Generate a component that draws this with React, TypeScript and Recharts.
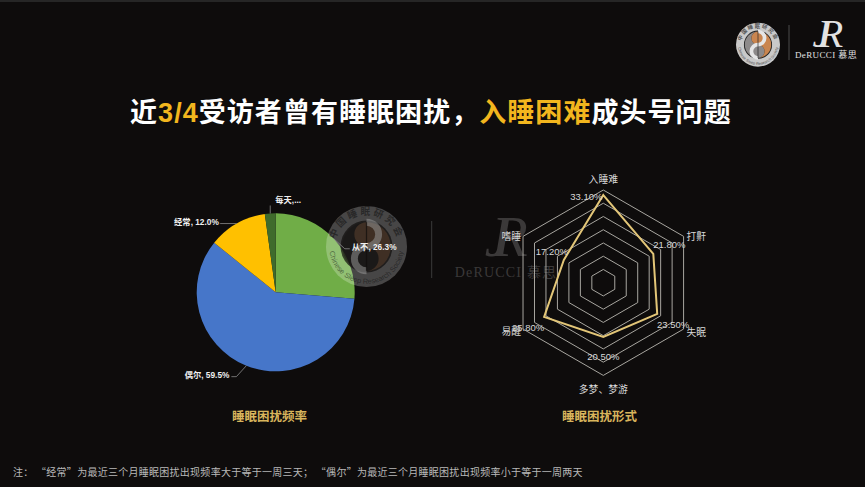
import { PieChart, Pie, Cell, RadarChart, Radar, PolarGrid, PolarAngleAxis, PolarRadiusAxis } from 'recharts'

const RADIAN = Math.PI / 180
const CJK = '"Liberation Sans", "Noto Sans CJK SC", sans-serif'

const frequencyNames = ['从不', '偶尔', '经常', '每天']
const frequencyValues = [26.3, 59.5, 12.0, 2.2]
const frequencyLabels = ['从不, 26.3%', '偶尔, 59.5%', '经常, 12.0%', '每天,...']
const frequencyColors = ['#70AD47', '#4676C9', '#FFC000', '#3F6B2C']

const symptomNames = ['入睡难', '打鼾', '失眠', '多梦、梦游', '易醒', '嗜睡']
const symptomValues = [33.1, 21.8, 23.5, 20.5, 25.8, 17.2]
const symptomMax = 35
const symptomRings = 8

const pieData = frequencyNames.map((name, i) => ({ name, value: frequencyValues[i], label: frequencyLabels[i] }))
const radarData = symptomNames.map((name, i) => ({ name, value: symptomValues[i] }))

// leader line bends: [elbow dx, elbow dy, end dx], text offset after the end
const leaders = [
  { ex: 11, ey: 10, ax: 5, tx: 2, ty: -2, anchor: 'start' },
  { ex: -10, ey: 11, ax: -5, tx: -2, ty: -2, anchor: 'end' },
  { ex: -16, ey: 0, ax: -1, tx: -1, ty: -2, anchor: 'end' },
  { ex: 0, ey: -8, ax: 0, tx: 5, ty: -5, anchor: 'start' },
]
const tickOffsets = [
  { dx: 0, dy: -3, anchor: 'middle' },
  { dx: -4, dy: 4, anchor: 'start' },
  { dx: -4, dy: -1, anchor: 'start' },
  { dx: 0, dy: 6, anchor: 'middle' },
  { dx: 5, dy: -2, anchor: 'end' },
  { dx: 5, dy: 4, anchor: 'end' },
]
const valueOffsets = [
  { dx: -17, dy: 1 },
  { dx: 16, dy: -9 },
  { dx: 16, dy: 11 },
  { dx: 0, dy: 20 },
  { dx: -16, dy: 11 },
  { dx: -12, dy: -8 },
]

const renderPieLabel = ({ cx, cy, midAngle, outerRadius, index }: any) => {
  const l = leaders[index]
  const x0 = cx + outerRadius * Math.cos(-midAngle * RADIAN)
  const y0 = cy + outerRadius * Math.sin(-midAngle * RADIAN)
  const x1 = x0 + l.ex
  const y1 = y0 + l.ey
  const x2 = x1 + l.ax
  return (
    <g>
      <polyline points={`${x0},${y0} ${x1},${y1} ${x2},${y1}`} fill="none" stroke="#8c8c8c" strokeWidth={0.8} />
      <text
        x={x2 + l.tx}
        y={y1 + l.ty}
        fill="#f0f0f0"
        fontSize={8.3}
        fontWeight={700}
        fontFamily={CJK}
        textAnchor={l.anchor as any}
        dominantBaseline="central"
      >
        {frequencyLabels[index]}
      </text>
    </g>
  )
}

const renderAngleTick = ({ x, y, payload, index }: any) => {
  const t = tickOffsets[index]
  return (
    <text x={x + t.dx} y={y + t.dy} fill="#d8d8d8" fontSize={9.8} fontFamily={CJK} textAnchor={t.anchor as any} dominantBaseline="central">
      {payload.value}
    </text>
  )
}

const renderValueDot = ({ cx, cy, index }: any) => {
  const o = valueOffsets[index]
  return (
    <text key={index} x={cx + o.dx} y={cy + o.dy} fill="#d8d8d8" fontSize={9.5} fontFamily={CJK} textAnchor="middle" dominantBaseline="central">
      {symptomValues[index].toFixed(2)}%
    </text>
  )
}

function SocietyLogo({ cx, cy, r, ring, inner, left, right, snake, text, id }: any) {
  const R = r * 0.6
  const t = cy - R
  const b = cy + R
  const rt = r * 0.78
  const rb = r * 0.92
  const bx = rb * Math.cos(25 * RADIAN)
  const by = rb * Math.sin(25 * RADIAN)
  return (
    <g>
      <defs>
        <path id={`${id}-top`} d={`M ${cx - rt} ${cy} A ${rt} ${rt} 0 0 1 ${cx + rt} ${cy}`} />
        <path id={`${id}-bot`} d={`M ${cx - bx} ${cy - by} A ${rb} ${rb} 0 1 0 ${cx + bx} ${cy - by}`} />
      </defs>
      <circle cx={cx} cy={cy} r={r} fill={ring} />
      <circle cx={cx} cy={cy} r={R + r * 0.04} fill={inner} />
      <path d={`M ${cx} ${t} A ${R} ${R} 0 0 0 ${cx} ${b} A ${R / 2} ${R / 2} 0 0 0 ${cx} ${cy} A ${R / 2} ${R / 2} 0 0 1 ${cx} ${t}`} fill={left} />
      <path d={`M ${cx} ${t} A ${R} ${R} 0 0 1 ${cx} ${b} A ${R / 2} ${R / 2} 0 0 0 ${cx} ${cy} A ${R / 2} ${R / 2} 0 0 1 ${cx} ${t}`} fill={right} />
      <path
        d={`M ${cx} ${t} A ${R / 2} ${R / 2} 0 0 1 ${cx} ${cy} A ${R / 2} ${R / 2} 0 0 0 ${cx} ${b}`}
        fill="none"
        stroke={snake}
        strokeWidth={r * 0.17}
      />
      <line x1={cx} y1={t} x2={cx} y2={b} stroke={inner} strokeWidth={r * 0.03} />
      <text fill={text} fontSize={r * 0.24} fontWeight={700} letterSpacing={r * 0.06} fontFamily={CJK} textAnchor="middle">
        <textPath href={`#${id}-top`} startOffset="50%">
          中国睡眠研究会
        </textPath>
      </text>
      <text fill={text} fontSize={r * 0.18} fontFamily={CJK} textAnchor="middle">
        <textPath href={`#${id}-bot`} startOffset="50%">
          Chinese Sleep Research Society
        </textPath>
      </text>
    </g>
  )
}

function BrandMark({ x, y, size, color, textX, textY, textSize, spacing }: any) {
  return (
    <g>
      <text x={x - size * 0.14} y={y} fill={color} fontSize={size} fontStyle="italic" fontFamily='"Liberation Serif", serif' textAnchor="middle">
        J
      </text>
      <text x={x + size * 0.1} y={y} fill={color} fontSize={size} fontStyle="italic" fontFamily='"Liberation Serif", serif' textAnchor="middle">
        R
      </text>
      <text x={textX} y={textY} fill={color} fontSize={textSize} letterSpacing={spacing} fontFamily='"Liberation Serif", "Noto Sans CJK SC", serif' textAnchor="middle">
        DeRUCCI 慕思
      </text>
    </g>
  )
}

const layer = { position: 'absolute', left: 0, top: 0 } as const

const captionStyle = {
  position: 'absolute',
  top: 408,
  whiteSpace: 'nowrap',
  fontFamily: '"Noto Sans CJK SC", sans-serif',
  fontSize: 12.5,
  lineHeight: '16px',
  fontWeight: 700,
  color: '#D8B45C',
} as const

export default function App() {
  return (
    <div style={{ position: 'fixed', left: 0, top: 0, width: 865, height: 487, background: '#0E0C0C', overflow: 'hidden' }}>
      <div style={{ ...layer, width: 865, height: 2, background: '#262626' }} />
      <div style={layer}>
        <PieChart width={865} height={487} margin={{ top: 0, right: 0, bottom: 0, left: 0 }}>
          <Pie
            data={pieData}
            dataKey="value"
            cx={275.7}
            cy={292.3}
            outerRadius={79}
            startAngle={90}
            endAngle={-270}
            stroke="none"
            isAnimationActive={false}
          >
            {pieData.map((entry, i) => (
              <Cell key={entry.name} fill={frequencyColors[i]} />
            ))}
          </Pie>
        </PieChart>
      </div>

      <svg width={865} height={487} style={{ ...layer, pointerEvents: 'none' }}>
        <SocietyLogo
          id="mark"
          cx={366.5}
          cy={246.5}
          r={40.5}
          ring="rgba(255,255,255,0.24)"
          inner="rgba(15,13,12,0.7)"
          left="rgba(20,18,17,0.35)"
          right="rgba(90,62,42,0.55)"
          snake="rgba(150,150,150,0.55)"
          text="rgba(10,10,10,0.5)"
        />
        <line x1={431.7} y1={221} x2={431.7} y2={278} stroke="#3a3a3a" strokeWidth={1} />
        <BrandMark x={505} y={256} size={56} color="#3b3939" textX={506} textY={277} textSize={14} spacing={1.2} />
        <SocietyLogo
          id="head"
          cx={758}
          cy={44.7}
          r={22}
          ring="#c9c9c9"
          inner="#222"
          left="#8d8a8a"
          right="#c9854f"
          snake="#e6e6e6"
          text="#555"
        />
        <line x1={789} y1={25} x2={789} y2={60} stroke="#4a4a4a" strokeWidth={1} />
        <BrandMark x={827} y={47} size={40} color="#e2e2e2" textX={826} textY={58} textSize={9} spacing={0.4} />
      </svg>

      {/* same pie again with no fill, so the labels sit on top of the watermark */}
      <div style={layer}>
        <PieChart width={865} height={487} margin={{ top: 0, right: 0, bottom: 0, left: 0 }}>
          <Pie
            data={pieData}
            dataKey="value"
            cx={275.7}
            cy={292.3}
            outerRadius={79}
            startAngle={90}
            endAngle={-270}
            fill="none"
            stroke="none"
            label={renderPieLabel}
            labelLine={false}
            isAnimationActive={false}
          />
        </PieChart>
      </div>

      <div style={layer}>
        <RadarChart
          width={865}
          height={487}
          data={radarData}
          cx={603.3}
          cy={282.7}
          outerRadius={92.7}
          margin={{ top: 0, right: 0, bottom: 0, left: 0 }}
        >
          <PolarGrid gridType="polygon" radialLines={false} stroke="#a8a6a0" strokeWidth={1} />
          <PolarAngleAxis dataKey="name" tick={renderAngleTick} tickLine={false} axisLine={false} />
          <PolarRadiusAxis domain={[0, symptomMax]} tickCount={symptomRings} tick={false} axisLine={false} />
          <Radar
            dataKey="value"
            stroke="#E3C678"
            strokeWidth={2}
            fill="none"
            fillOpacity={0}
            dot={renderValueDot}
            isAnimationActive={false}
          />
        </RadarChart>
      </div>

      <div
        style={{
          ...layer,
          left: 130,
          top: 96,
          width: 610,
          whiteSpace: 'nowrap',
          fontFamily: '"Liberation Sans", "Noto Sans CJK SC", sans-serif',
          fontSize: 27,
          lineHeight: '34px',
          fontWeight: 700,
          letterSpacing: 1.05,
          color: '#fff',
        }}
      >
        近<span style={{ color: '#F2B61E' }}>3/4</span>受访者曾有睡眠困扰，<span style={{ color: '#F2B61E' }}>入睡困难</span>成头号问题
      </div>

      <div style={{ ...captionStyle, left: 232 }}>睡眠困扰频率</div>
      <div style={{ ...captionStyle, left: 562 }}>睡眠困扰形式</div>

      <div
        style={{
          ...layer,
          left: 13,
          top: 465,
          whiteSpace: 'nowrap',
          fontFamily: '"Noto Sans CJK SC", sans-serif',
          fontSize: 10,
          lineHeight: '14px',
          letterSpacing: 0.27,
          color: '#b9b9b9',
        }}
      >
        注： “经常”为最近三个月睡眠困扰出现频率大于等于一周三天； “偶尔”为最近三个月睡眠困扰出现频率小于等于一周两天
      </div>
    </div>
  )
}
